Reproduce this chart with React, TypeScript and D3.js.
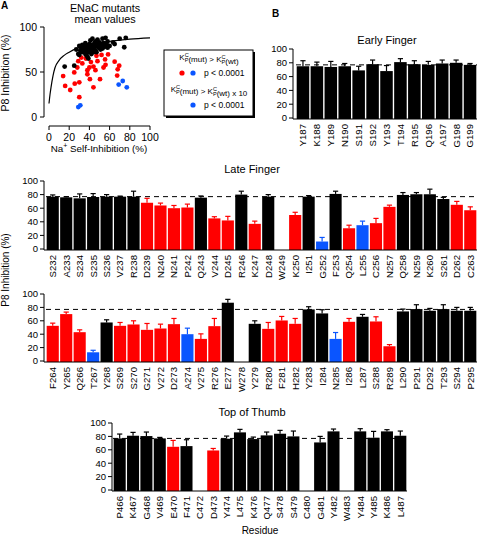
import React from 'react';
import * as d3 from 'd3';

const FONT = '"Liberation Sans", Arial, Helvetica, sans-serif';
const COLORS: Record<string, string> = { k: '#000000', r: '#ff0000', b: '#0a55ff' };

// ---------- Panel A scatter data (x = Na+ self-inhibition %, y = P8 inhibition %) ----------
const BLACK_PTS: [number, number][] = [
  [15.5, 56], [25, 57], [27, 75], [29, 70], [30, 79], [31, 74], [32, 77], [33, 80], [34, 76], [35, 73],
  [35, 78], [36, 82], [37, 69], [37, 75], [38, 79], [39, 72], [40, 77], [40, 81], [41, 74], [41, 85],
  [42, 78], [43, 87], [43, 80], [44, 76], [45, 82], [45, 78], [46, 84], [46, 74], [47, 79], [48, 81],
  [48, 86], [49, 77], [50, 83], [50, 79], [51, 75], [52, 80], [53, 87], [54, 82], [55, 78], [56, 88],
  [57, 81], [58, 84], [60, 79], [63.5, 83], [65, 81], [70, 87], [76, 88], [74.5, 77.5], [38, 67], [36, 70],
  [39, 65], [42, 70], [44, 72], [47, 72], [33, 72], [30, 69], [53, 76], [58, 77],
];
const RED_PTS: [number, number][] = [
  [14, 45.5], [16, 34.5], [21, 30], [25.5, 37], [30, 38.5], [30, 22], [25, 49.5], [28, 55], [29, 62], [33, 59.5],
  [32, 66], [36.5, 65], [38, 52], [38, 47.5], [40.5, 42], [40, 55], [41.5, 61], [44, 56], [46, 52], [44, 33],
  [50.5, 42], [47, 68], [48, 62], [52, 69], [54, 55], [56, 58], [58.5, 69.5], [55.5, 64], [65, 61.5], [69.5, 57],
  [68, 53], [67.5, 46],
];
const BLUE_PTS: [number, number][] = [[29, 11], [31, 13], [69, 36], [73, 40], [77, 33]];
const FIT_PTS: [number, number][] = [
  [0, 15], [1, 25], [2, 33], [4, 46], [6, 55], [10, 63], [15, 68.5], [20, 72], [27, 76], [35, 79],
  [45, 81.5], [60, 84], [80, 86.5], [100, 88],
];
const SCATTER_X_TICKS = [0, 20, 40, 60, 80, 100];
const SCATTER_Y_TICKS = [0, 50, 100];
const BAR_Y_TICKS = [0, 20, 40, 60, 80, 100];
const WT_LEVEL = 77;

// ---------- Panel B bar data ----------
const EARLY_RES = ['Y187', 'K188', 'Y189', 'N190', 'S191', 'S192', 'Y193', 'T194', 'R195', 'Q196', 'A197', 'G198', 'G199'];
const EARLY_VAL = [75, 75, 74, 75, 69, 78, 68, 81, 78, 77, 79, 80, 77];
const EARLY_ERR = [8, 6, 8, 4, 6, 6, 8, 5, 5, 5, 5, 4, 2];
const EARLY_GRP = ['k', 'k', 'k', 'k', 'k', 'k', 'k', 'k', 'k', 'k', 'k', 'k', 'k'];

const LATE_RES = ['S232', 'A233', 'S234', 'S235', 'S236', 'V237', 'R238', 'D239', 'N240', 'N241', 'P242', 'Q243', 'V244', 'D245', 'R246', 'K247',
  'D248', 'W249', 'K250', 'I251', 'G252', 'F253', 'Q254', 'L255', 'C256', 'N257', 'Q258', 'N259', 'K260', 'S261', 'D262', 'C263'];
const LATE_VAL = [77, 76, 74.5, 76.5, 77, 77, 77, 68, 64, 60, 61, 75.5, 45, 42, 80, 37,
  77, null, 50, 77, 11, 81, 30.5, 35, 38, 62, 79.5, 80.5, 80.5, 73.5, 65, 57];
const LATE_ERR = [2.5, 0.8, 6.5, 5, 3, 0.8, 8, 6.5, 3.5, 4, 5, 2.5, 2.5, 6, 5, 4,
  3, 0, 4, 1.5, 6, 4, 4.5, 6, 7, 2.5, 3.5, 2.5, 7.5, 2.5, 5, 5];
const LATE_GRP = ['k', 'k', 'k', 'k', 'k', 'k', 'k', 'r', 'r', 'r', 'r', 'k', 'r', 'r', 'k', 'r',
  'k', 'k', 'r', 'k', 'b', 'k', 'r', 'b', 'r', 'r', 'k', 'k', 'k', 'k', 'r', 'r'];

const MID_RES = ['F264', 'Y265', 'Q266', 'T267', 'Y268', 'S269', 'S270', 'G271', 'V272', 'D273', 'A274', 'V275', 'R276', 'E277', 'W278', 'Y279',
  'R280', 'F281', 'H282', 'Y283', 'I284', 'N285', 'I286', 'L287', 'S288', 'R289', 'L290', 'P291', 'D292', 'T293', 'S294', 'P295'];
const MID_VAL = [52.5, 70, 43, 13, 57.5, 52.5, 54.5, 46.5, 48.5, 55, 40, 33, 52, 87, null, 55.5,
  48, 60.5, 55.5, 77, 71, 33, 58.5, 66, 59, 22, 74, 77.5, 75, 77.5, 75, 75];
const MID_ERR = [4, 3, 3.5, 3, 4, 5, 5.5, 9.5, 6.5, 8.5, 9, 7.5, 11.5, 5, 0, 4.5,
  9.5, 6, 8, 4, 5.5, 9.5, 5, 3.5, 7, 2.5, 3.5, 6.5, 3.5, 6.5, 5, 5];
const MID_GRP = ['r', 'r', 'r', 'b', 'k', 'r', 'r', 'r', 'r', 'r', 'b', 'r', 'r', 'k', 'k', 'k',
  'r', 'r', 'r', 'k', 'k', 'b', 'r', 'k', 'r', 'r', 'k', 'k', 'k', 'k', 'k', 'k'];

const THUMB_RES = ['P466', 'K467', 'G468', 'V469', 'E470', 'F471', 'C472', 'D473', 'Y474', 'L475', 'K476', 'Q477', 'S478', 'S479', 'C480',
  'G481', 'Y482', 'W483', 'Y484', 'Y485', 'K486', 'L487'];
const THUMB_VAL = [77, 81, 80.5, 77, 64.5, 65.5, null, 59, 76.5, 86, 76, 81.5, 84, 80, null,
  71, 87.5, null, 87.5, 78, 87.5, 81];
const THUMB_ERR = [6.5, 5, 6, 1.5, 9.5, 9.5, 0, 3, 4, 4.5, 3, 5, 5, 8, 0,
  9, 3.5, 0, 4, 9.5, 2.5, 7];
const THUMB_GRP = ['k', 'k', 'k', 'k', 'r', 'k', 'k', 'r', 'k', 'k', 'k', 'k', 'k', 'k', 'k',
  'k', 'k', 'k', 'k', 'k', 'k', 'k'];

type PanelProps = {
  title: string; titleX: number; titleY: number;
  res: string[]; vals: (number | null)[]; errs: number[]; grps: string[];
  axisX: number; left: number; right: number; y0: number; y100: number;
};

function KpC({ fs }: { fs: number }) {
  const s = fs * 0.7;
  return (
    <>
      <tspan>K</tspan>
      <tspan fontSize={s} dy={-fs * 0.38}>C</tspan>
      <tspan fontSize={s} dx={-s * 0.72} dy={fs * 0.62}>P</tspan>
      <tspan dy={-fs * 0.24}></tspan>
    </>
  );
}

function BarPanel(p: PanelProps) {
  const x = d3.scaleBand<string>().domain(p.res).range([p.left, p.right]).paddingInner(0.1).paddingOuter(0.05);
  const y = d3.scaleLinear().domain([0, 100]).range([p.y0, p.y100]);
  const base = p.y0 + 1;
  const bw = x.bandwidth();
  return (
    <g>
      {p.title ? <text x={p.titleX} y={p.titleY} fontSize={11} textAnchor="middle">{p.title}</text> : null}
      <line x1={p.left} x2={p.right} y1={y(WT_LEVEL)} y2={y(WT_LEVEL)} stroke="#000" strokeWidth={1} strokeDasharray="5,4" />
      {p.res.map((r, i) => {
        const v = p.vals[i];
        if (v == null) return null;
        const c = COLORS[p.grps[i]];
        const cx = (x(r) as number) + bw / 2;
        const top = y(v + p.errs[i]);
        return (
          <g key={r}>
            <rect x={x(r)} y={y(v)} width={bw} height={base - y(v)} fill={c} />
            <line x1={cx} x2={cx} y1={y(v)} y2={top} stroke={c} strokeWidth={1.2} />
            <line x1={cx - 2.6} x2={cx + 2.6} y1={top} y2={top} stroke={c} strokeWidth={1.2} />
          </g>
        );
      })}
      <line x1={p.axisX} x2={p.axisX} y1={y(100)} y2={base} stroke="#000" strokeWidth={1} />
      <line x1={p.axisX} x2={p.right} y1={base} y2={base} stroke="#000" strokeWidth={1} />
      {BAR_Y_TICKS.map((t) => (
        <g key={t}>
          <line x1={p.axisX - 4} x2={p.axisX} y1={y(t)} y2={y(t)} stroke="#000" />
          <text x={p.axisX - 6} y={y(t)} dy="0.35em" fontSize={9.5} textAnchor="end">{t}</text>
        </g>
      ))}
      {p.res.map((r) => {
        const cx = (x(r) as number) + bw / 2;
        return (
          <text key={r} transform={`translate(${cx + 3.4},${base + 5}) rotate(-90)`} fontSize={9.6} textAnchor="end">{r}</text>
        );
      })}
    </g>
  );
}

function Scatter() {
  const sx = d3.scaleLinear().domain([0, 100]).range([49, 150]);
  const sy = d3.scaleLinear().domain([0, 100]).range([117, 27]);
  const line = d3.line<[number, number]>().x((d) => sx(d[0])).y((d) => sy(d[1])).curve(d3.curveMonotoneX);
  const r = 2.4;
  return (
    <g>
      <text x={105} y={12} fontSize={10.8} textAnchor="middle">ENaC mutants</text>
      <text x={105} y={23} fontSize={10.8} textAnchor="middle">mean values</text>
      <path d={line(FIT_PTS) || ''} fill="none" stroke="#000" strokeWidth={1.2} />
      {RED_PTS.map((d, i) => <circle key={'r' + i} cx={sx(d[0])} cy={sy(d[1])} r={r} fill={COLORS.r} />)}
      {BLACK_PTS.map((d, i) => <circle key={'k' + i} cx={sx(d[0])} cy={sy(d[1])} r={r} fill={COLORS.k} />)}
      {BLUE_PTS.map((d, i) => <circle key={'b' + i} cx={sx(d[0])} cy={sy(d[1])} r={r} fill={COLORS.b} />)}
      <line x1={44} x2={44} y1={sy(100)} y2={sy(0)} stroke="#000" />
      {SCATTER_Y_TICKS.map((t) => (
        <g key={t}>
          <line x1={40} x2={44} y1={sy(t)} y2={sy(t)} stroke="#000" />
          <text x={37} y={sy(t)} dy="0.35em" fontSize={10.5} textAnchor="end">{t}</text>
        </g>
      ))}
      <line x1={sx(0)} x2={sx(100)} y1={126} y2={126} stroke="#000" />
      {SCATTER_X_TICKS.map((t) => (
        <g key={t}>
          <line x1={sx(t)} x2={sx(t)} y1={126} y2={130} stroke="#000" />
          <text x={sx(t)} y={141} fontSize={10.5} textAnchor="middle">{t}</text>
        </g>
      ))}
      <text x={99} y={152} fontSize={9.8} textAnchor="middle">
        Na<tspan fontSize={7} dy={-4}>+</tspan><tspan dy={4}> Self-Inhibition (%)</tspan>
      </text>
      <text transform="translate(9,73) rotate(-90)" fontSize={10.5} textAnchor="middle">P8 Inhibition (%)</text>
      {/* legend */}
      <rect x={166} y={52} width={89} height={66} fill="#000" />
      <rect x={164} y={50} width={89} height={66} fill="#fff" stroke="#000" strokeWidth={1} />
      <text x={209} y={60} fontSize={8} textAnchor="middle">
        <KpC fs={8} />(mut) &gt; <KpC fs={8} />(wt)
      </text>
      <circle cx={182} cy={73} r={2.6} fill={COLORS.r} />
      <circle cx={193} cy={73} r={2.6} fill={COLORS.b} />
      <text x={204} y={76} fontSize={8.5}>p &lt; 0.0001</text>
      <text x={209} y={92} fontSize={8} textAnchor="middle">
        <KpC fs={8} />(mut) &gt; <KpC fs={8} />(wt) x 10
      </text>
      <circle cx={193} cy={105} r={2.6} fill={COLORS.b} />
      <text x={204} y={108} fontSize={8.5}>p &lt; 0.0001</text>
    </g>
  );
}

export default function App() {
  return (
    <svg width={477} height={536} style={{ position: 'absolute', left: 0, top: 0, background: '#fff' }} fontFamily={FONT}>
      <rect x={0} y={0} width={477} height={536} fill="#fff" />
      <text x={1} y={9} fontSize={10} fontWeight="bold">A</text>
      <text x={272} y={17} fontSize={10} fontWeight="bold">B</text>
      <Scatter />
      <BarPanel title="Early Finger" titleX={387} titleY={44} res={EARLY_RES} vals={EARLY_VAL} errs={EARLY_ERR} grps={EARLY_GRP}
        axisX={293} left={296} right={477} y0={118} y100={49} />
      <BarPanel title="Late Finger" titleX={252} titleY={173} res={LATE_RES} vals={LATE_VAL} errs={LATE_ERR} grps={LATE_GRP}
        axisX={44} left={46} right={477} y0={249} y100={181} />
      <BarPanel title="" titleX={252} titleY={0} res={MID_RES} vals={MID_VAL} errs={MID_ERR} grps={MID_GRP}
        axisX={44} left={46} right={477} y0={361} y100={294} />
      <BarPanel title="Top of Thumb" titleX={252} titleY={416} res={THUMB_RES} vals={THUMB_VAL} errs={THUMB_ERR} grps={THUMB_GRP}
        axisX={112} left={113} right={407} y0={490} y100={423} />
      <text transform="translate(9,270) rotate(-90)" fontSize={10} textAnchor="middle">P8 Inhibition (%)</text>
      <text x={260} y={534} fontSize={10} textAnchor="middle">Residue</text>
    </svg>
  );
}
